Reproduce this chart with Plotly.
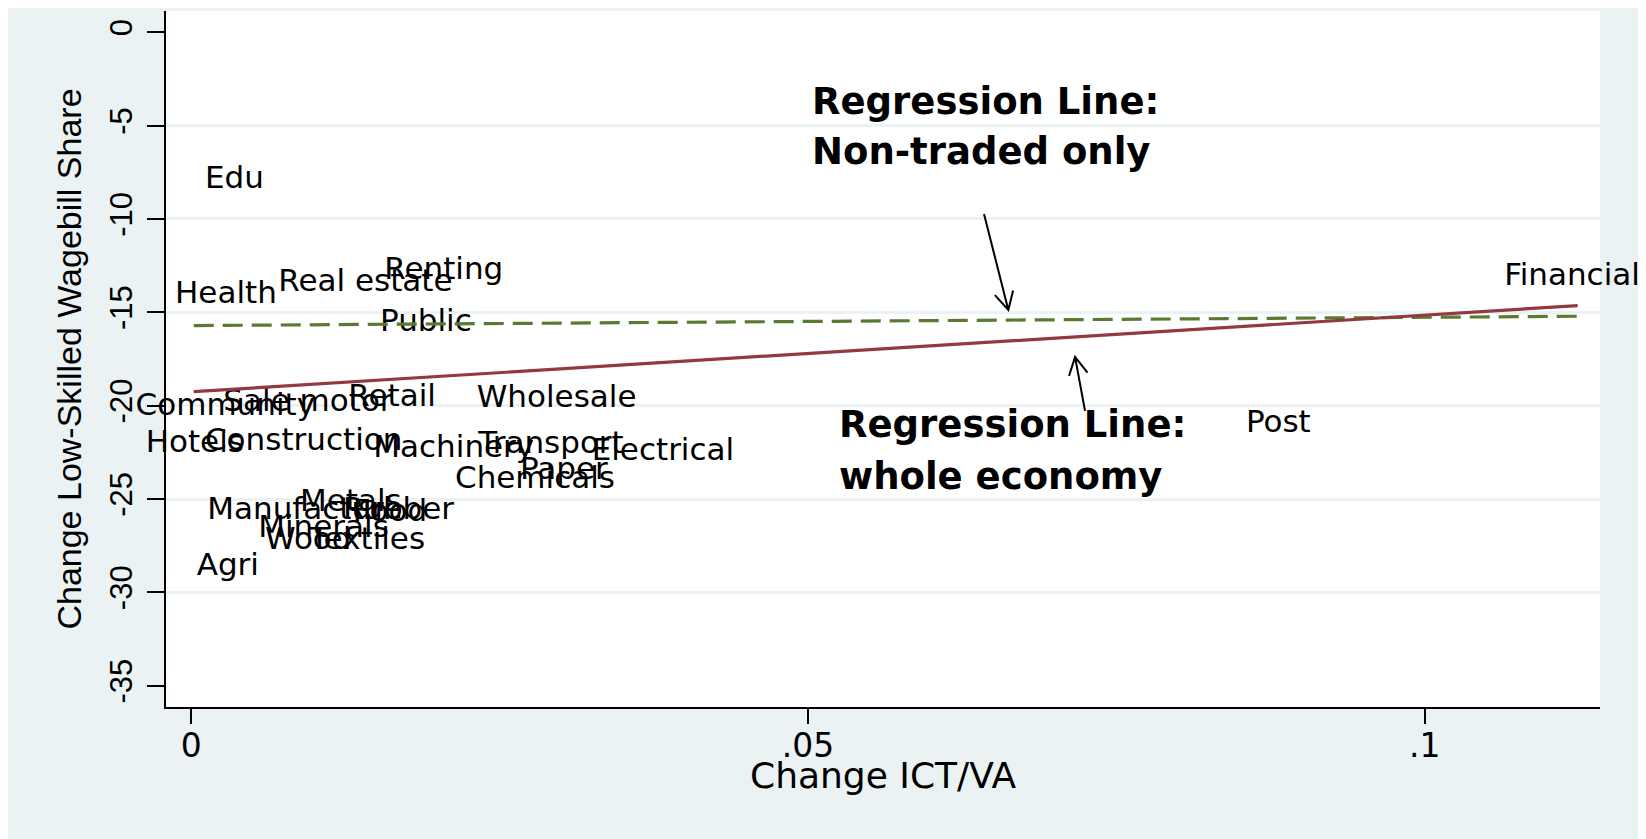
import math
import plotly.graph_objects as go

# ---------------- data ----------------
industry = ["Edu", "Health", "Real estate", "Renting", "Public", "Community",
            "Sale motor", "Retail", "Wholesale", "Hotels", "Construction",
            "Machinery", "Transport", "Electrical", "Paper", "Chemicals",
            "Metals", "Manufacture", "Food", "Rubber", "Minerals", "Wood",
            "Textiles", "Agri", "Post"]
ict_change = [0.00111, -0.00132, 0.00705, 0.01565, 0.0153, 0.01003,
              0.0026, 0.01273, 0.02314, 0.00427, 0.00111,
              0.01476, 0.02327, 0.03246, 0.02665, 0.02138,
              0.00881, 0.0013, 0.0131, 0.01231, 0.00543, 0.00598,
              0.00962, 0.00044, 0.0855]
lowskill_change = [-7.9, -14.1, -13.42, -12.82, -15.56, -20.1,
                   -19.88, -19.62, -19.66, -22.05, -21.96,
                   -22.34, -22.14, -22.5, -23.52, -24.02,
                   -25.2, -25.68, -25.74, -25.68, -26.64, -27.26,
                   -27.24, -28.66, -21.02]
label_side = ["middle right"] * len(industry)
label_side[industry.index("Community")] = "middle left"
label_side[industry.index("Hotels")] = "middle left"

fin_name = ["Financial"]
fin_x = [0.11194]
fin_y = [-13.12]

whole_x = [0.0002, 0.1124]
whole_y = [-19.25, -14.64]
nontraded_x = [0.0002, 0.1124]
nontraded_y = [-15.71, -15.21]

y_ticks = [0, -5, -10, -15, -20, -25, -30, -35]
y_grid = [-5, -10, -15, -20, -25, -30]
x_ticks = [0, 0.05, 0.1]
x_ticktext = ["0", ".05", ".1"]

# ---------------- layout geometry ----------------
W, H = 1638, 831
L, R, T, B = 158, 46, 3, 132
XR = [-0.00205, 0.11421]
YR = [-36.14, 1.14]
PW, PH = W - L - R, H - T - B

BG = "#eaf2f3"
RED = "#933a40"
GREEN = "#5a7a31"
FONT = "DejaVu Sans"
YFONT = "Liberation Sans"

fig = go.Figure()

fig.add_trace(go.Scatter(
    x=ict_change, y=lowskill_change, mode="text", text=industry,
    textposition=label_side, cliponaxis=False, showlegend=False,
    textfont=dict(family=FONT, size=31, color="black"), hoverinfo="skip"))
fig.add_trace(go.Scatter(
    x=fin_x, y=fin_y, mode="text", text=fin_name,
    textposition="middle center", cliponaxis=False, showlegend=False,
    textfont=dict(family=FONT, size=31, color="black"), hoverinfo="skip"))

fig.add_trace(go.Scatter(
    x=nontraded_x, y=nontraded_y, mode="lines", showlegend=False,
    line=dict(color=GREEN, width=3.2, dash="20px,9px")))
fig.add_trace(go.Scatter(
    x=whole_x, y=whole_y, mode="lines", showlegend=False,
    line=dict(color=RED, width=3.2)))

# ---------------- annotations ----------------
ann_font = dict(family=FONT, size=37, color="black")
notes = [
    ("<b>Regression Line:</b>", 0.05016, -3.69),
    ("<b>Non-traded only</b>", 0.05016, -6.39),
    ("<b>Regression Line:</b>", 0.05235, -21.03),
    ("<b>whole economy</b>", 0.05235, -23.77),
]
for txt, ax_, ay_ in notes:
    fig.add_annotation(x=ax_, y=ay_, xref="x", yref="y", text=txt,
                       showarrow=False, xanchor="left", yanchor="middle",
                       font=ann_font)

# x-axis title placed as a paper-anchored label
fig.add_annotation(x=0.5, y=-(768 - (H - B)) / PH, xref="paper", yref="paper",
                   text="Change ICT/VA", showarrow=False,
                   xanchor="center", yanchor="middle",
                   font=dict(family=FONT, size=36, color="black"))


def to_px(x, y):
    return (L + (x - XR[0]) / (XR[1] - XR[0]) * PW,
            T + (YR[1] - y) / (YR[1] - YR[0]) * PH)


def to_data(px, py):
    return (XR[0] + (px - L) / PW * (XR[1] - XR[0]),
            YR[1] - (py - T) / PH * (YR[1] - YR[0]))


arrows = [((0.06427, -9.73), (0.06624, -14.87)),
          ((0.07246, -20.28), (0.07165, -17.39))]
for tail, tip in arrows:
    tx, ty = to_px(*tail)
    hx, hy = to_px(*tip)
    ang = math.atan2(ty - hy, tx - hx)
    blen, bang = 20, math.radians(28)
    b1 = to_data(hx + blen * math.cos(ang + bang), hy + blen * math.sin(ang + bang))
    b2 = to_data(hx + blen * math.cos(ang - bang), hy + blen * math.sin(ang - bang))
    path = (f"M {tail[0]},{tail[1]} L {tip[0]},{tip[1]} "
            f"M {b1[0]},{b1[1]} L {tip[0]},{tip[1]} L {b2[0]},{b2[1]}")
    fig.add_shape(type="path", xref="x", yref="y", path=path,
                  line=dict(color="black", width=2))

fig.update_layout(
    width=W, height=H,
    margin=dict(l=L, r=R, t=T, b=B, autoexpand=False),
    paper_bgcolor=BG, plot_bgcolor="white",
    showlegend=False,
)

fig.update_xaxes(
    range=XR, tickvals=x_ticks, ticktext=x_ticktext,
    showgrid=False, zeroline=False,
    showline=True, linecolor="black", linewidth=2,
    ticks="outside", ticklen=15, tickwidth=2, tickcolor="black",
    tickfont=dict(family=FONT, size=33, color="black"),
    ticklabelstandoff=-7,
    automargin=False,
)
fig.update_yaxes(
    range=YR, tickvals=y_ticks, ticktext=[str(v) for v in y_ticks],
    showgrid=False, zeroline=False,
    minor=dict(tickvals=y_grid, showgrid=True, gridcolor=BG, gridwidth=2.5, ticks=""),
    showline=True, linecolor="black", linewidth=2,
    ticks="outside", ticklen=17, tickwidth=2, tickcolor="black",
    tickangle=-90,
    tickfont=dict(family=YFONT, size=31, color="black"),
    ticklabelstandoff=3,
    title=dict(text="Change Low-Skilled Wagebill Share",
               font=dict(family=YFONT, size=34, color="black"), standoff=12),
    automargin=False,
)

fig.write_html("out.html")
